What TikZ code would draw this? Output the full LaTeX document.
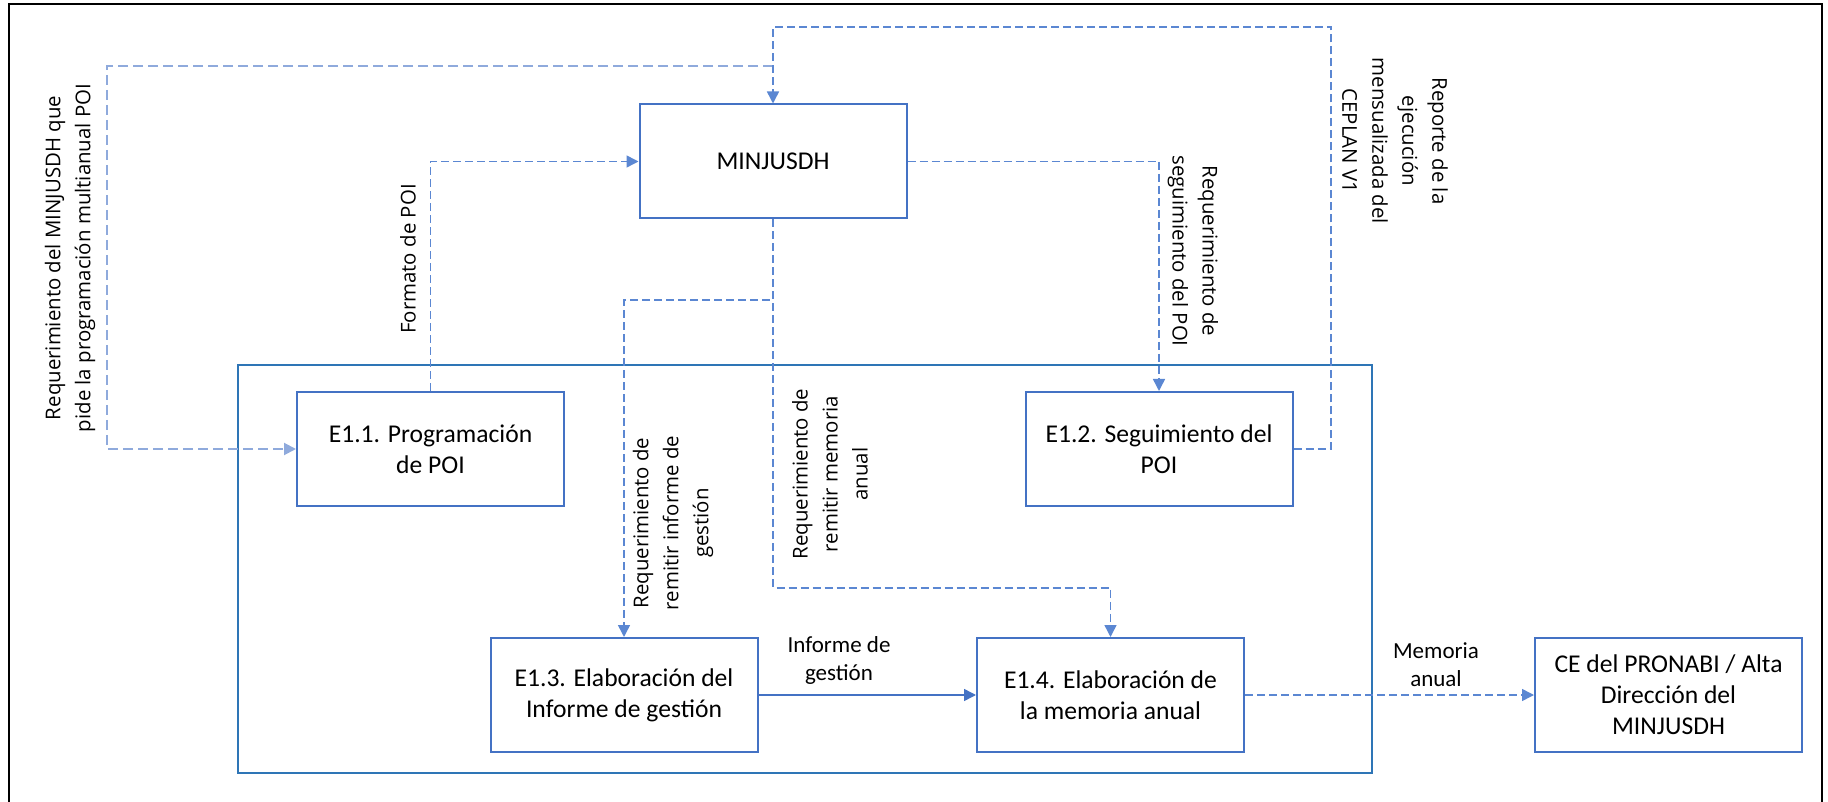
\documentclass[tikz,border=0pt]{standalone}
\usepackage{fontspec}
\usetikzlibrary{arrows.meta}
\newfontfamily\carlito{Carlito}
\newfontfamily\opensans{Open Sans}
\definecolor{boxblue}{HTML}{4472C4}
\definecolor{contblue}{HTML}{2E75B6}
\definecolor{dashblue}{HTML}{5B87D2}
\definecolor{lightblue}{HTML}{8FAADC}

\begin{document}
\begin{tikzpicture}[x=0.5pt,y=-0.5pt,
  procbox/.style={draw=boxblue,line width=1pt,minimum width=133.5pt,minimum height=57pt,inner sep=0pt,align=center,font=\carlito\fontsize{12.8}{15.5}\selectfont},
  flowline/.style={dashblue,line width=0.75pt,dash pattern=on 4pt off 2pt,-{Triangle[length=6pt,width=6pt]}},
  vlabel/.style={align=center,font=\opensans\fontsize{10.2}{15}\selectfont},
  hlabel/.style={align=center,font=\carlito\fontsize{11.5}{14}\selectfont}]
\useasboundingbox (0,0) rectangle (1828,802);
\draw[line width=1.2pt] (9,4) rectangle (1822,806);
% container of the E1 processes
\draw[contblue,line width=1.2pt] (238,365) rectangle (1372,773);
\node[procbox] (minjus) at (773,161.5) {MINJUSDH};
\node[procbox] (prog) at (430.5,449) {E1.1. Programación\\de POI};
\node[procbox] (segui) at (1159,449) {E1.2. Seguimiento del\\POI};
\node[procbox] (infor) at (624,695) {E1.3. Elaboración del\\Informe de gestión};
\node[procbox] (memo) at (1110.5,695) {E1.4. Elaboración de\\la memoria anual};
\node[procbox] (ce) at (1668.5,695) {CE del PRONABI / Alta\\Dirección del\\MINJUSDH};
\coordinate (jtop) at (773,66);
\coordinate (lcorner) at (107,66);
\coordinate (rtop) at (1331,27);
\coordinate (bjoin) at (773,300);
\coordinate (mjoin) at (773,588);
% connectors
\draw[flowline,lightblue,line width=1pt,dash pattern=on 5pt off 2.5pt] (jtop) -- (lcorner) |- (prog.west);
\draw[flowline] (segui.east) -| (rtop) -| (minjus.north);
\draw[flowline] (prog.north) |- (minjus.west);
\draw[flowline] (minjus.east) -| (segui.north);
\draw[flowline] (minjus.south) -- (bjoin) -| (infor.north);
\draw[flowline] (minjus.south) -- (mjoin) -| (memo.north);
\draw[boxblue,line width=0.75pt,-{Triangle[length=6pt,width=6pt]}] (infor.east) -- (memo.west);
\draw[flowline] (memo.east) -- (ce.west);
% labels
\node[vlabel,rotate=90] (lreqpoi) at (70,258) {Requerimiento del MINJUSDH que\\pide la programación multianual POI};
\node[vlabel,rotate=90] (lformato) at (408,259) {Formato de POI};
\node[vlabel,rotate=90] (lreqinf) at (673,523) {Requerimiento de\\remitir informe de\\gestión};
\node[vlabel,rotate=90] (lreqmem) at (830,474) {Requerimiento de\\remitir memoria\\anual};
\node[vlabel,rotate=-90] (lreqseg) at (1193,251) {Requerimiento de\\seguimiento del POI};
\node[vlabel,rotate=-90] (lreporte) at (1395,141) {Reporte de la\\ejecución\\mensualizada del\\CEPLAN V1};
\node[hlabel] (linforme) at (839,660) {Informe de\\gestión};
\node[hlabel] (lmemoria) at (1436,665) {Memoria\\anual};
\end{tikzpicture}
\end{document}
